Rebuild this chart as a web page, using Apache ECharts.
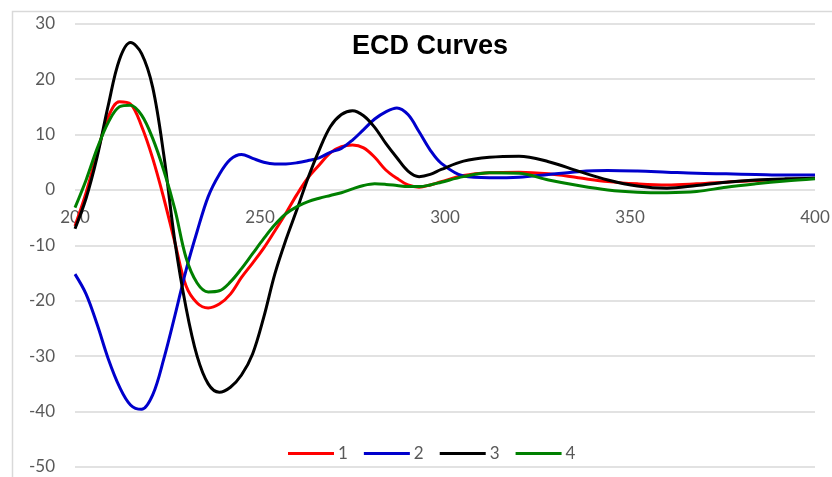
<!DOCTYPE html>
<html>
<head>
<meta charset="utf-8">
<script src="https://cdn.jsdelivr.net/npm/echarts@6/dist/echarts.min.js"></script>
<style>
html,body{margin:0;padding:0;background:#fff;}
#chart{width:832px;height:477px;}
</style>
</head>
<body>
<div id="chart"></div>
<script>
const seriesNames = ['1', '2', '3', '4'];
const xTicks = [200, 250, 300, 350, 400];
const yTicks = [-50, -40, -30, -20, -10, 0, 10, 20, 30];

const wavelengths = [200, 203, 206, 209, 212, 215, 218, 221, 224, 227, 230, 233, 236, 239, 242, 245, 248, 251, 254, 257, 260, 263, 266, 269, 272, 275, 278, 281, 284, 287, 290, 293, 296, 299,
  305, 312, 320, 328, 336, 344, 352, 360, 368, 376, 384, 392, 400];

const cd1 = [-6.5, -0.5, 6.7, 13.2, 15.9, 15.5, 11.5, 5.7, -1.5, -9.5, -17.3, -20.4, -21.3, -20.6, -18.8, -15.8, -13.2, -10.5, -7.4, -4.2, -0.8, 2.2, 4.5, 6.7, 7.8, 8.1, 7.6, 5.9, 3.6, 2.1, 0.9, 0.5, 0.9, 1.5,
  2.6, 3.1, 3.2, 2.9, 2.2, 1.5, 1.1, 0.9, 1.1, 1.4, 1.7, 1.9, 2.1];

const cd2 = [-15.2, -18.8, -24.3, -30.5, -35.5, -38.8, -39.6, -37, -30.5, -22.7, -14.5, -7.5, -1.2, 2.8, 5.5, 6.4, 5.7, 5.0, 4.7, 4.7, 4.9, 5.3, 5.8, 6.8, 7.5, 9.0, 10.9, 12.8, 14.1, 14.8, 13.6, 10.5, 7.2, 4.8,
  2.5, 2.2, 2.3, 2.8, 3.3, 3.5, 3.4, 3.2, 3.0, 2.9, 2.8, 2.7, 2.7];

const cd3 = [-7, -1.5, 6, 15.3, 23.5, 26.6, 24.6, 18.5, 6.3, -9.3, -21.2, -30, -35, -36.5, -35.6, -33.4, -29.6, -23, -15.2, -9, -3.5, 2.2, 7.2, 11.4, 13.6, 14.3, 13.4, 11.3, 8.4, 5.8, 3.4, 2.4, 2.8, 3.7,
  5.2, 5.9, 6.1, 5.1, 3.4, 1.8, 0.7, 0.3, 0.8, 1.4, 1.8, 2.0, 2.1];

const cd4 = [-3.2, 1.8, 7.5, 12.2, 15, 15.3, 13.5, 9.3, 3.5, -3.5, -12.2, -16.8, -18.4, -18.2, -16.6, -14.2, -11.5, -8.8, -6.3, -4.3, -3, -2.1, -1.5, -1, -0.5, 0.2, 0.8, 1.1, 1.0, 0.8, 0.6, 0.6, 0.9, 1.4,
  2.4, 3.1, 3.0, 1.8, 0.8, 0, -0.4, -0.5, -0.3, 0.5, 1.1, 1.6, 2.0];

const colors = ['#ff0000', '#0000cc', '#000000', '#008000'];
const ys = [cd1, cd2, cd3, cd4];

const chart = echarts.init(document.getElementById('chart'), null, {renderer: 'canvas'});
const font = 'Lato, "Liberation Sans", sans-serif';

const gridTop = 23.7, gridBottom = 10, H = 477;
const plotH = H - gridTop - gridBottom;
const zeroOffset = plotH * (0 - yTicks[0]) / (yTicks[yTicks.length - 1] - yTicks[0]);

chart.setOption({
  animation: false,
  backgroundColor: '#ffffff',
  title: {
    text: 'ECD Curves',
    left: 347, top: 28,
    textStyle: {fontFamily: '"Liberation Sans", Arial, sans-serif', fontWeight: 'bold', fontSize: 27, color: '#000000'}
  },
  graphic: [{
    type: 'rect', silent: true, z: -1,
    shape: {x: 12.5, y: 11.5, width: 900, height: 600},
    style: {fill: 'none', stroke: '#d9d9d9', lineWidth: 1.5}
  }],
  legend: {
    data: seriesNames,
    left: 288, top: 445, padding: 0,
    icon: 'rect', itemWidth: 46, itemHeight: 3, itemGap: 16,
    textStyle: {fontFamily: font, fontSize: 17, color: '#595959', padding: [0, 0, 0, -1]}
  },
  grid: {left: 75, right: 17, top: gridTop, bottom: gridBottom, containLabel: false, outerBoundsMode: 'none'},
  xAxis: {
    type: 'value', position: 'bottom', offset: -zeroOffset,
    min: xTicks[0], max: xTicks[xTicks.length - 1], interval: 50,
    axisLine: {show: false, onZero: false},
    axisTick: {show: false},
    splitLine: {show: false},
    axisLabel: {show: true, fontFamily: font, fontSize: 17, color: '#595959', margin: 19}
  },
  yAxis: {
    type: 'value', min: yTicks[0], max: yTicks[yTicks.length - 1], interval: 10,
    axisLine: {show: false}, axisTick: {show: false},
    splitLine: {lineStyle: {color: '#d9d9d9', width: 1.5}},
    axisLabel: {fontFamily: font, fontSize: 17, color: '#595959', margin: 20}
  },
  series: seriesNames.map((n, i) => ({
    name: n, type: 'line', smooth: 0.35, showSymbol: false, symbol: 'none',
    lineStyle: {color: colors[i], width: 3},
    itemStyle: {color: colors[i]},
    data: wavelengths.map((x, j) => [x, ys[i][j]])
  }))
});
</script>
</body>
</html>
